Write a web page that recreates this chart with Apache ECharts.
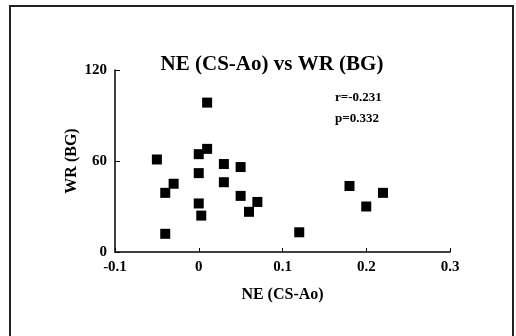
<!DOCTYPE html>
<html>
<head>
<meta charset="utf-8">
<script src="https://cdn.jsdelivr.net/npm/echarts@6/dist/echarts.min.js"></script>
<style>
  html, body { margin: 0; padding: 0; background: #fff; }
  #chart { width: 516px; height: 336px; }
</style>
</head>
<body>
<div id="chart"></div>
<script>
// NE (CS-Ao) values and matching WR (BG) values
var neValues = [-0.05, -0.04, -0.03, -0.04, 0, 0.01, 0.01, 0, 0, 0.003, 0.03, 0.03, 0.05, 0.05, 0.06, 0.07, 0.12, 0.18, 0.2, 0.22];
var wrValues = [61, 39, 45, 12, 64.5, 68, 98.5, 52, 32, 24, 58, 46, 56, 37, 26.5, 33, 13, 43.5, 30, 39];
var statLines = ['r=-0.231', 'p=0.332'];

var points = neValues.map(function (x, i) { return [x, wrValues[i]]; });

var serif = '"Liberation Serif", "Times New Roman", serif';
var chart = echarts.init(document.getElementById('chart'));

chart.setOption({
  animation: false,
  backgroundColor: '#fff',
  title: {
    text: 'NE (CS-Ao) vs WR (BG)',
    left: 267,
    textAlign: 'center',
    top: 49,
    textStyle: { fontFamily: serif, fontWeight: 'bold', fontSize: 21, color: '#000' }
  },
  graphic: [
    {
      type: 'rect',
      shape: { x: 10, y: 6, width: 503, height: 340 },
      style: { fill: null, stroke: '#222', lineWidth: 2 }
    },
    {
      type: 'text',
      left: 335,
      top: 87,
      style: {
        text: statLines.join('\n'),
        font: 'bold 13px ' + serif,
        lineHeight: 21,
        fill: '#000'
      }
    }
  ],
  grid: { left: 115, right: 66, top: 70, bottom: 84 },
  xAxis: {
    type: 'value',
    min: -0.1, max: 0.3, interval: 0.1,
    name: 'NE (CS-Ao)',
    nameLocation: 'middle',
    nameGap: 35,
    nameTextStyle: { fontFamily: serif, fontWeight: 'bold', fontSize: 16, color: '#000' },
    axisLine: { onZero: false, lineStyle: { color: '#000', width: 1.5 } },
    axisTick: { inside: true, length: 4, lineStyle: { color: '#000' } },
    axisLabel: {
      fontFamily: serif, fontWeight: 'bold', fontSize: 15, color: '#000', margin: 8,
      formatter: function (v) { return +v.toFixed(1) + ''; }
    },
    splitLine: { show: false }
  },
  yAxis: {
    type: 'value',
    min: 0, max: 120, interval: 60,
    name: 'WR (BG)',
    nameLocation: 'middle',
    nameGap: 35,
    nameMoveOverlap: false,
    nameTextStyle: { fontFamily: serif, fontWeight: 'bold', fontSize: 16, color: '#000' },
    axisLine: { show: true, onZero: false, lineStyle: { color: '#000', width: 1.5 } },
    axisTick: { show: true, inside: true, length: 5, lineStyle: { color: '#000' } },
    axisLabel: { fontFamily: serif, fontWeight: 'bold', fontSize: 15, color: '#000', margin: 8 },
    splitLine: { show: false }
  },
  series: [{
    type: 'scatter',
    data: points,
    symbol: 'rect',
    symbolSize: 10,
    itemStyle: { color: '#000', opacity: 1 }
  }]
});
</script>
</body>
</html>
